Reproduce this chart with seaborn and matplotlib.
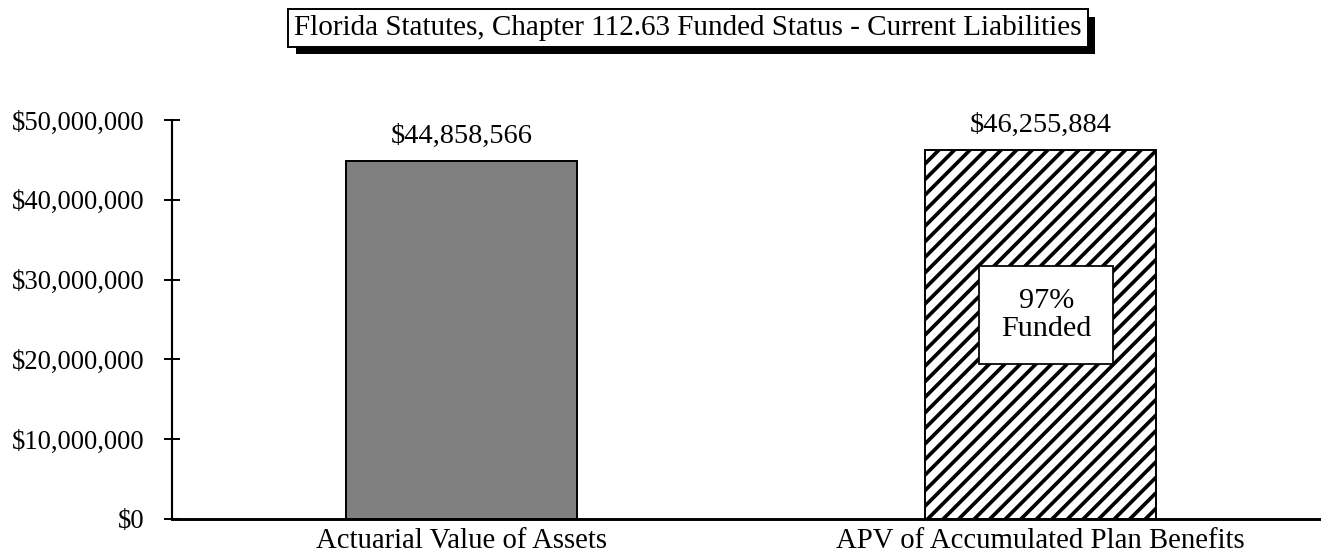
import matplotlib
matplotlib.use("Agg")
import matplotlib.pyplot as plt
import matplotlib.patheffects as pe
from matplotlib.ticker import FuncFormatter, FixedLocator
import seaborn as sns
import pandas as pd

categories = ["Actuarial Value of Assets", "APV of Accumulated Plan Benefits"]
values = [44858566, 46255884]
bar_labels = ["$44,858,566", "$46,255,884"]
funded_text = "97%\nFunded"
title_text = "Florida Statutes, Chapter 112.63 Funded Status - Current Liabilities"
y_ticks = [0, 10000000, 20000000, 30000000, 40000000, 50000000]

sns.set_theme(style="white")
plt.rcParams["font.family"] = ["Liberation Serif", "DejaVu Serif"]
plt.rcParams["hatch.linewidth"] = 1.9
plt.rcParams["hatch.color"] = "black"

DPI = 140
fig = plt.figure(figsize=(1321 / DPI, 560 / DPI), dpi=DPI)
ax = fig.add_axes([172 / 1321, 41 / 560, 1158 / 1321, 399 / 560])

df = pd.DataFrame({"cat": categories, "val": values})
sns.barplot(data=df, x="cat", y="val", hue="cat", palette=["#808080", "#ffffff"],
            edgecolor="black", linewidth=1.0, width=0.40, legend=False, ax=ax,
            saturation=1)

for i, cont in enumerate(ax.containers):
    for p in cont:
        if i == 1:
            p.set_hatch("///")
    ax.bar_label(cont, labels=[bar_labels[i]], padding=6, fontsize=14.6, color="black")

ax.set_xlim(-0.5, 1.5)
ax.set_ylim(0, 50000000)
ax.set_yticks(y_ticks)
ax.yaxis.set_major_formatter(FuncFormatter(lambda v, p: f"${v:,.0f}"))
ax.set_xlabel("")
ax.set_ylabel("")

ax.xaxis.set_minor_locator(FixedLocator([-0.5, 0.5, 1.5]))
ax.tick_params(axis="x", which="major", length=0, pad=4.5, labelsize=14.8, labelcolor="black")
ax.tick_params(axis="x", which="minor", direction="inout", length=9, width=1.0, color="black")
ax.tick_params(axis="y", which="major", direction="inout", length=8, width=1.0, color="black",
               left=True, pad=10, labelsize=13.7, labelcolor="black")

for s in ["top", "right"]:
    ax.spines[s].set_visible(False)
ax.spines["left"].set_color("black")
ax.spines["left"].set_linewidth(1.1)
ax.spines["bottom"].set_color("black")
ax.spines["bottom"].set_linewidth(1.5)
ax.spines["left"].set_zorder(5)

ax.text(1.01, values[1] * 0.552, funded_text, ha="center", va="center", fontsize=15.5,
        linespacing=1.12, color="black",
        bbox=dict(boxstyle="square,pad=0.72", facecolor="white", edgecolor="black", linewidth=0.9),
        zorder=6)

t = fig.text(688 / 1321, 1 - 28 / 560, title_text, ha="center", va="center", fontsize=15,
             color="black",
             bbox=dict(boxstyle="square,pad=0.2", facecolor="white", edgecolor="black", linewidth=1.0))
t.get_bbox_patch().set_path_effects([
    pe.SimplePatchShadow(offset=(3.8, -3.8), shadow_rgbFace="black", alpha=1.0),
    pe.Normal()])

fig.savefig("out.png", dpi=DPI)
